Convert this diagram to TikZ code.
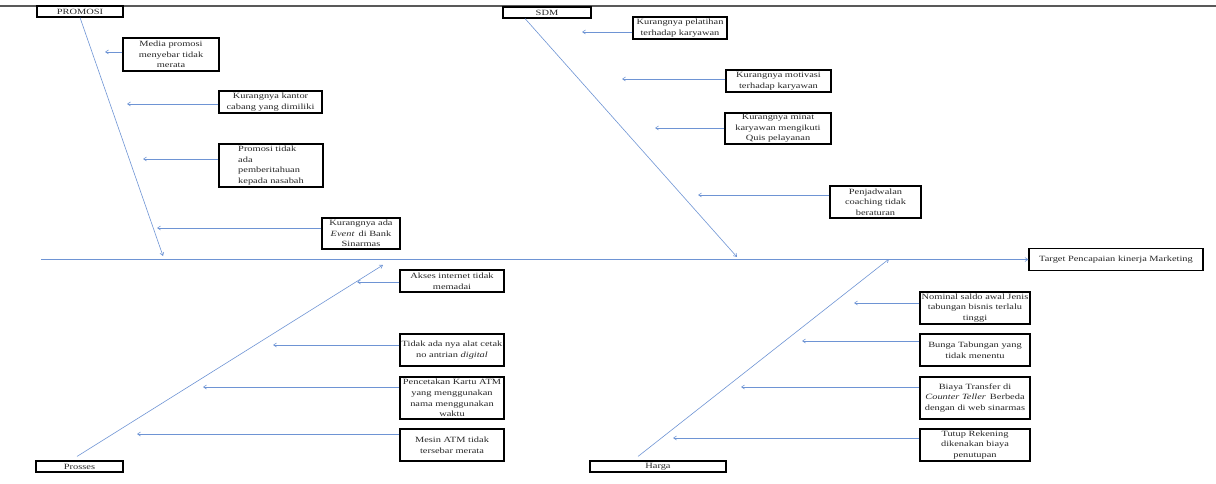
\documentclass[tikz,border=0pt]{standalone}
\usepackage{fontspec}
\setmainfont[FakeStretch=1.3]{Liberation Serif}
\usetikzlibrary{arrows.meta}

\definecolor{bonecol}{RGB}{110,148,212}

\begin{document}
\begin{tikzpicture}[x=1pt,y=-1pt,>={Straight Barb[length=3pt,width=4pt]}]

      \useasboundingbox (0,0) rectangle (1216,484);
      \draw[line width=2pt,black!65] (0,6) -- (1216,6);

      % kategori dan kotak penyebab
      \begin{scope}[every node/.style={draw,line width=1.1pt,inner sep=0.8pt,align=center,
          text=black!85,font=\fontsize{8}{10.6}\selectfont}]
        \node[minimum width=86,minimum height=11]  (promosi) at (80,11.5)   {PROMOSI};
        \node[minimum width=88,minimum height=11]  (sdm)     at (547,12.5)  {SDM};
        \node[minimum width=87,minimum height=11]  (prosses) at (79.5,466.5) {Prosses};
        \node[minimum width=136,minimum height=11] (harga)   at (658,466.5) {Harga};
        \node[minimum width=174,minimum height=22] (target)  at (1116,259.5) {Target Pencapaian kinerja Marketing};

        \node[minimum width=96,minimum height=33]  (p1) at (171,54.5)  {Media promosi\\menyebar tidak\\merata};
        \node[minimum width=103,minimum height=22] (p2) at (270.5,102) {Kurangnya kantor\\cabang yang dimiliki};
        \node[minimum width=104,minimum height=43,align=left] (p3) at (271,165.5) {Promosi tidak\\ada\\pemberitahuan\\kepada nasabah};
        \node[minimum width=78,minimum height=31]  (p4) at (361,233.5) {Kurangnya ada\\\textit{Event}\enspace di Bank\\Sinarmas};

        \node[minimum width=94,minimum height=22]  (s1) at (680,28)    {Kurangnya pelatihan\\terhadap karyawan};
        \node[minimum width=105,minimum height=22] (s2) at (778.5,81)  {Kurangnya motivasi\\terhadap karyawan};
        \node[minimum width=106,minimum height=31] (s3) at (778,128.5) {Kurangnya minat\\karyawan mengikuti\\Quis pelayanan};
        \node[minimum width=91,minimum height=32]  (s4) at (875.5,202) {Penjadwalan\\coaching tidak\\beraturan};

        \node[minimum width=104,minimum height=22] (r1) at (452,281) {Akses internet tidak\\memadai};
        \node[minimum width=104,minimum height=32] (r2) at (452,350) {Tidak ada nya alat cetak\\no antrian \textit{digital}};
        \node[minimum width=104,minimum height=42] (r3) at (452,398) {Pencetakan Kartu ATM\\yang menggunakan\\nama menggunakan\\waktu};
        \node[minimum width=104,minimum height=32] (r4) at (452,445) {Mesin ATM tidak\\tersebar merata};

        \node[minimum width=110,minimum height=32] (h1) at (975,308) {Nominal saldo awal Jenis\\tabungan bisnis terlalu\\tinggi};
        \node[minimum width=110,minimum height=32] (h2) at (975,350) {Bunga Tabungan yang\\tidak menentu};
        \node[minimum width=110,minimum height=42] (h3) at (975,398) {Biaya Transfer di\\\textit{Counter Teller}\enspace Berbeda\\dengan di web sinarmas};
        \node[minimum width=110,minimum height=32] (h4) at (975,445) {Tutup Rekening\\dikenakan biaya\\penutupan};
      \end{scope}

      % ujung panah pada tulang
      \coordinate (s0) at (41,259.5);
      \coordinate (pe) at (163,256);
      \coordinate (se) at (737,257);
      \coordinate (re) at (383,265);
      \coordinate (he) at (889,259);

      \coordinate (a1) at (105,52);
      \coordinate (a2) at (127,104);
      \coordinate (a3) at (143,159);
      \coordinate (a4) at (157,228);
      \coordinate (b1) at (582,32);
      \coordinate (b2) at (622,79);
      \coordinate (b3) at (655,128);
      \coordinate (b4) at (698,195);
      \coordinate (c1) at (357,282);
      \coordinate (c2) at (273,345);
      \coordinate (c3) at (203,387);
      \coordinate (c4) at (137,434);
      \coordinate (d1) at (854,303);
      \coordinate (d2) at (802,341);
      \coordinate (d3) at (741,387);
      \coordinate (d4) at (673,438);

      \begin{scope}[every edge/.style={draw,bonecol,line width=0.6pt,->}]
        \path (s0) edge (target.west);
        \path (promosi.south) edge (pe);
        \path ([xshift=-22pt]sdm.south) edge (se);
        \path ([xshift=-2.5pt,yshift=4pt]prosses.north) edge (re);
        \path ([xshift=-20pt,yshift=4pt]harga.north) edge (he);

        \path (p1.west |- a1) edge (a1);
        \path (p2.west |- a2) edge (a2);
        \path (p3.west |- a3) edge (a3);
        \path (p4.west |- a4) edge (a4);
        \path (s1.west |- b1) edge (b1);
        \path (s2.west |- b2) edge (b2);
        \path (s3.west |- b3) edge (b3);
        \path (s4.west |- b4) edge (b4);
        \path (r1.west |- c1) edge (c1);
        \path (r2.west |- c2) edge (c2);
        \path (r3.west |- c3) edge (c3);
        \path (r4.west |- c4) edge (c4);
        \path (h1.west |- d1) edge (d1);
        \path (h2.west |- d2) edge (d2);
        \path (h3.west |- d3) edge (d3);
        \path (h4.west |- d4) edge (d4);
      \end{scope}

    \end{tikzpicture}
\end{document}
